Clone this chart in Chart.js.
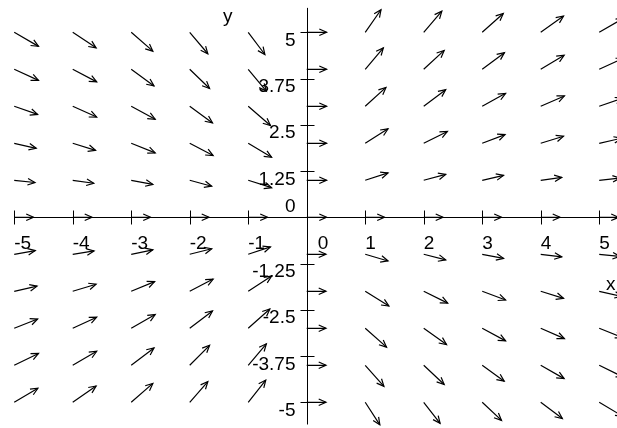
<!DOCTYPE html>
<html><head><meta charset="utf-8">
<script src="https://cdn.jsdelivr.net/npm/chart.js@4/dist/chart.umd.min.js"></script>
<style>html,body{margin:0;padding:0;background:#fff}#wrap{position:relative;width:617px;height:428px}</style>
</head><body><div id="wrap"><canvas id="c"></canvas></div>
<script>
// Grid of arrow base points
const xGrid = [-5,-4,-3,-2,-1,0,1,2,3,4,5];
const yGrid = [5,4,3,2,1,0,-1,-2,-3,-4,-5];
// Arrow components (data units), rows follow yGrid, columns follow xGrid
const arrowDX = [
  [0.415,0.40,0.37,0.31,0.285,0.34,0.27,0.31,0.36,0.39,0.415],
  [0.415,0.41,0.39,0.34,0.31,0.34,0.31,0.35,0.38,0.40,0.415],
  [0.40,0.41,0.41,0.39,0.38,0.34,0.355,0.376,0.40,0.405,0.40],
  [0.376,0.39,0.41,0.40,0.40,0.34,0.39,0.405,0.39,0.39,0.376],
  [0.355,0.36,0.37,0.376,0.40,0.34,0.39,0.376,0.365,0.36,0.355],
  [0.33,0.33,0.33,0.33,0.33,0.34,0.33,0.33,0.33,0.33,0.33],
  [0.36,0.365,0.37,0.376,0.38,0.33,0.39,0.376,0.365,0.36,0.355],
  [0.39,0.40,0.40,0.40,0.40,0.33,0.405,0.41,0.40,0.39,0.39],
  [0.40,0.41,0.41,0.39,0.37,0.33,0.365,0.39,0.40,0.405,0.40],
  [0.415,0.41,0.39,0.34,0.31,0.33,0.32,0.35,0.376,0.40,0.415],
  [0.405,0.40,0.37,0.31,0.30,0.33,0.25,0.28,0.33,0.37,0.405]
];
const arrowDY = [
  [-0.38,-0.42,-0.51,-0.58,-0.60,0,0.61,0.57,0.51,0.44,0.38],
  [-0.30,-0.34,-0.45,-0.52,-0.59,0,0.58,0.51,0.45,0.38,0.30],
  [-0.22,-0.29,-0.35,-0.45,-0.52,0,0.51,0.45,0.35,0.28,0.22],
  [-0.135,-0.19,-0.26,-0.33,-0.38,0,0.39,0.32,0.235,0.19,0.135],
  [-0.06,-0.08,-0.11,-0.16,-0.20,0,0.20,0.16,0.135,0.08,0.06],
  [0,0,0,0,0,0,0,0,0,0,0],
  [0.10,0.09,0.12,0.15,0.20,0,-0.18,-0.15,-0.11,-0.07,-0.06],
  [0.14,0.19,0.26,0.33,0.41,0,-0.40,-0.32,-0.235,-0.19,-0.14],
  [0.25,0.30,0.37,0.47,0.52,0,-0.51,-0.44,-0.34,-0.28,-0.25],
  [0.32,0.38,0.47,0.54,0.58,0,-0.57,-0.52,-0.43,-0.36,-0.32],
  [0.38,0.44,0.51,0.56,0.60,0,-0.61,-0.57,-0.49,-0.44,-0.38]
];
// Axis ticks and labels
const xTickValues = [-5,-4,-3,-2,-1,0,1,2,3,4,5];
const xTickLabels = ['-5','-4','-3','-2','-1','0','1','2','3','4','5'];
const yTickValues = [5,3.75,2.5,1.25,0,-1.25,-2.5,-3.75,-5];
const yTickLabels = ['5','3.75','2.5','1.25','0','-1.25','-2.5','-3.75','-5'];
const xAxisTitle = 'x';
const yAxisTitle = 'y';

// Build line-segment data for shafts (null separates segments)
const shaftData = [];
yGrid.forEach((y, r) => {
  xGrid.forEach((x, c) => {
    shaftData.push({x: x, y: y});
    shaftData.push({x: x + arrowDX[r][c], y: y + arrowDY[r][c]});
    shaftData.push({x: x, y: null});
  });
});

const FONT = '19px "Liberation Sans", Arial, sans-serif';

const axesPlugin = {
  id: 'mapleAxes',
  beforeDatasetsDraw(chart) {
    const ctx = chart.ctx, xs = chart.scales.x, ys = chart.scales.y;
    const x0 = Math.round(xs.getPixelForValue(0)) + 0.5;
    const y0 = Math.round(ys.getPixelForValue(0)) + 0.5;
    ctx.save();
    ctx.strokeStyle = '#000';
    ctx.lineWidth = 1;
    ctx.beginPath();
    ctx.moveTo(Math.round(xs.getPixelForValue(-5)), y0);
    ctx.lineTo(chart.width, y0);
    ctx.moveTo(x0, ys.getPixelForValue(5.66));
    ctx.lineTo(x0, ys.getPixelForValue(-5.6));
    xTickValues.forEach(v => {
      const px = Math.round(xs.getPixelForValue(v)) + 0.5;
      ctx.moveTo(px, y0 - 7); ctx.lineTo(px, y0 + 7);
    });
    yTickValues.forEach(v => {
      const py = Math.round(ys.getPixelForValue(v)) + 0.5;
      ctx.moveTo(x0 - 7, py); ctx.lineTo(x0 + 7, py);
    });
    ctx.stroke();
    ctx.fillStyle = '#000';
    ctx.font = FONT;
    ctx.textBaseline = 'alphabetic';
    ctx.textAlign = 'left';
    xTickValues.forEach((v, i) => {
      const px = xs.getPixelForValue(v) + (v === 0 ? 11 : 0);
      ctx.fillText(xTickLabels[i], px, y0 + 31);
    });
    ctx.textAlign = 'right';
    yTickValues.forEach((v, i) => {
      const py = ys.getPixelForValue(v);
      ctx.fillText(yTickLabels[i], x0 - 12, v === 0 ? py - 5 : py + 13.5);
    });
    ctx.textAlign = 'center';
    ctx.fillText(yAxisTitle, xs.getPixelForValue(0) - 79, ys.getPixelForValue(0) - 195);
    ctx.fillText(xAxisTitle, xs.getPixelForValue(0) + 304, ys.getPixelForValue(0) + 73);
    ctx.restore();
  }
};

const headPlugin = {
  id: 'arrowHeads',
  afterDatasetsDraw(chart) {
    const ctx = chart.ctx, xs = chart.scales.x, ys = chart.scales.y;
    ctx.save();
    ctx.strokeStyle = '#000';
    ctx.lineWidth = 1.2;
    ctx.lineJoin = 'miter';
    ctx.beginPath();
    yGrid.forEach((y, r) => {
      xGrid.forEach((x, c) => {
        const sx = xs.getPixelForValue(x), sy = ys.getPixelForValue(y);
        const ex = xs.getPixelForValue(x + arrowDX[r][c]), ey = ys.getPixelForValue(y + arrowDY[r][c]);
        const a = Math.atan2(ey - sy, ex - sx);
        const L = 8, w = 0.42;
        ctx.moveTo(ex - L * Math.cos(a - w), ey - L * Math.sin(a - w));
        ctx.lineTo(ex, ey);
        ctx.lineTo(ex - L * Math.cos(a + w), ey - L * Math.sin(a + w));
      });
    });
    ctx.stroke();
    ctx.restore();
  }
};

new Chart(document.getElementById('c'), {
  type: 'line',
  data: {
    datasets: [{
      data: shaftData,
      borderColor: '#000',
      borderWidth: 1.2,
      pointRadius: 0,
      spanGaps: false,
      tension: 0,
      fill: false
    }]
  },
  options: {
    responsive: true,
    maintainAspectRatio: false,
    animation: false,
    layout: {padding: 0},
    plugins: {legend: {display: false}, tooltip: {enabled: false}},
    scales: {
      x: {type: 'linear', min: -5.243, max: 5.304, display: false},
      y: {type: 'linear', min: -5.695, max: 5.873, display: false}
    }
  },
  plugins: [axesPlugin, headPlugin]
});
</script></body></html>
